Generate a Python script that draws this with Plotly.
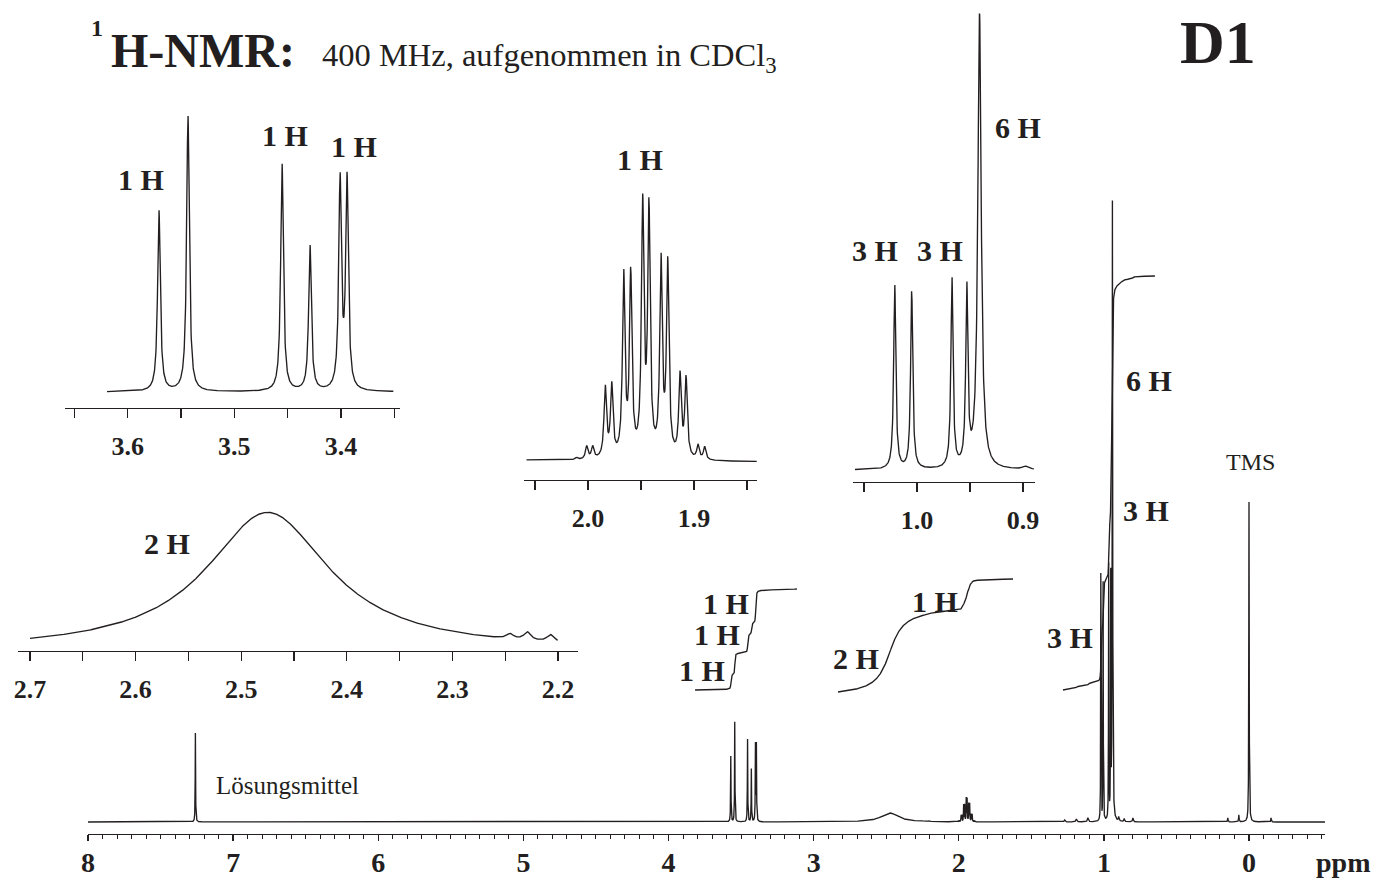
import numpy as np
import plotly.graph_objects as go

# ---------------- data ----------------
# peak lists: chemical shift (ppm), intensity (units of the main trace), half width (ppm)
solvent_ppm = [7.26]
solvent_int = [89.0]
solvent_hw = [0.0015]

ch2o_ppm = [3.5707, 3.5435, 3.4553, 3.4291, 3.4009, 3.3944]
ch2o_int = [66.0, 100.5, 83.0, 53.0, 76.0, 76.0]
ch2o_hw = [0.0015, 0.0015, 0.0015, 0.0015, 0.0015, 0.0015]

oh_ppm = [2.475, 2.2455, 2.229, 2.207]
oh_int = [9.0, 0.32, 0.52, 0.45]
oh_hw = [0.071, 0.004, 0.004, 0.004]

ch_ppm = [2.0107, 2.0012, 1.9956, 1.9837, 1.9776, 1.9663, 1.9597, 1.9484, 1.9425,
          1.9311, 1.9248, 1.9132, 1.9075, 1.8962, 1.8899]
ch_int = [0.2, 1.19, 1.11, 6.47, 6.56, 16.7, 16.7, 23.0, 22.7, 17.9, 17.7, 7.5, 7.3, 1.28, 1.19]
ch_hw = [0.0014] * 15

me_ppm = [1.021, 1.005, 0.967, 0.953, 0.941]
me_int = [254.0, 245.0, 261.0, 243.0, 625.0]
me_hw = [0.0012, 0.0012, 0.0012, 0.0012, 0.0019]

minor_ppm = [1.27, 1.19, 1.11, 0.898, 0.86, 0.80, 0.146, 0.07, -0.152]
minor_int = [2.0, 3.0, 4.0, 4.0, 3.0, 4.0, 4.0, 7.0, 4.0]
minor_hw = [0.004, 0.004, 0.004, 0.003, 0.003, 0.003, 0.002, 0.002, 0.002]

tms_ppm = [0.0]
tms_int = [320.0]
tms_hw = [0.0016]

main_ticks = [8, 7, 6, 5, 4, 3, 2, 1, 0]
main_ticktext = ["8", "7", "6", "5", "4", "3", "2", "1", "0"]
insetA_ticks = [3.65, 3.6, 3.55, 3.5, 3.45, 3.4, 3.35]
insetA_text = [" ", "3.6", " ", "3.5", " ", "3.4", " "]
insetB_ticks = [2.05, 2.0, 1.95, 1.9, 1.85]
insetB_text = [" ", "2.0", " ", "1.9", " "]
insetC_ticks = [2.7, 2.65, 2.6, 2.55, 2.5, 2.45, 2.4, 2.35, 2.3, 2.25, 2.2]
insetC_text = ["2.7", " ", "2.6", " ", "2.5", " ", "2.4", " ", "2.3", " ", "2.2"]
insetD_ticks = [1.05, 1.0, 0.95, 0.9]
insetD_text = [" ", "1.0", " ", "0.9"]

# integral traces: (start ppm, end ppm, start level, end level) in main-trace units
integral_ranges = [(3.817, 3.115, 132.0, 233.0),
                   (2.832, 1.626, 130.0, 243.0),
                   (1.282, 0.648, 132.0, 546.0)]

# ---------------- build spectrum ----------------
all_ppm = np.array(solvent_ppm + ch2o_ppm + oh_ppm + ch_ppm + me_ppm + minor_ppm + tms_ppm)
all_int = np.array(solvent_int + ch2o_int + oh_int + ch_int + me_int + minor_int + tms_int)
all_hw = np.array(solvent_hw + ch2o_hw + oh_hw + ch_hw + me_hw + minor_hw + tms_hw)


def spectrum(x):
    x = np.asarray(x)[:, None]
    return (all_int / (1.0 + ((x - all_ppm) / all_hw) ** 2)).sum(axis=1)


W, H = 1374, 886
INK = "#231f20"
SERIF = "Liberation Serif"
LW = 1.35


def xd(a, b):
    return [a / W, b / W]


def yd(bot, top):
    return [1 - bot / H, 1 - top / H]


fig = go.Figure()

# main trace
PPX = (1249 - 88) / 8.0
main_lo = 8 - (1325 - 88) / PPX
xm = np.arange(8.0, main_lo, -0.0004)
fig.add_trace(go.Scatter(x=xm, y=spectrum(xm), mode="lines",
                         line=dict(color=INK, width=LW), xaxis="x", yaxis="y"))

# integrals
for (p0, p1, v0, v1) in integral_ranges:
    xi = np.linspace(p0, p1, 9000)
    si = spectrum(xi)
    cum = np.concatenate([[0], np.cumsum(0.5 * (si[1:] + si[:-1]) * np.abs(np.diff(xi)))])
    yi = v0 + (v1 - v0) * cum / cum[-1]
    fig.add_trace(go.Scatter(x=xi, y=yi, mode="lines",
                             line=dict(color=INK, width=LW), xaxis="x", yaxis="y"))

# insets: (axis name, ppm span of trace, ppm-range of axis, x px domain, axis y, baseline y, top y, scale)
PPI = 1060.0
insets = [
    ("2", (3.6194, 3.351), (3.6 + (127.7 - 65) / 1066.7, 3.6 - (400 - 127.7) / 1066.7),
     (65, 400), 408, 392, 95, 2.75, insetA_ticks, insetA_text),
    ("3", (2.058, 1.8406), (2.0 + (588 - 524) / PPI, 1.9 - (757 - 694) / PPI),
     (524, 757), 480, 463, 150, 10.8, insetB_ticks, insetB_text),
    ("4", (2.7, 2.2), (2.7 + 12 / 1056.0, 2.2 - 20 / 1056.0),
     (18, 578), 651, 651, 480, 15.4, insetC_ticks, insetC_text),
    ("5", (1.0585, 0.8896), (1.0 + (917 - 853) / PPI, 0.9 - (1035 - 1023) / PPI),
     (853, 1035), 482, 470, 3, 0.7276, insetD_ticks, insetD_text),
]

layout_axes = {}
for name, span, rng, xdom, yax, ybase, ytop, sc, tv, tt in insets:
    xi = np.arange(span[0], span[1], -0.0002)
    fig.add_trace(go.Scatter(x=xi, y=spectrum(xi), mode="lines",
                             line=dict(color=INK, width=LW),
                             xaxis="x" + name, yaxis="y" + name))
    layout_axes["xaxis" + name] = dict(
        domain=xd(*xdom), range=list(rng), anchor="y" + name, automargin=False,
        showline=True, linecolor=INK, linewidth=1.3,
        ticks="outside", ticklen=9, tickwidth=1.3, tickcolor=INK,
        tickmode="array", tickvals=tv, ticktext=tt, ticklabelstandoff=5,
        tickfont=dict(family=SERIF, size=26, color=INK, weight="bold"),
        showgrid=False, zeroline=False)
    layout_axes["yaxis" + name] = dict(
        domain=yd(yax, ytop), range=[-(yax - ybase) / sc, (ybase - ytop) / sc],
        anchor="x" + name, visible=False, automargin=False)

layout_axes["xaxis"] = dict(
    domain=xd(88, 1325), range=[8, main_lo], anchor="y", automargin=False,
    showline=True, linecolor=INK, linewidth=1.3,
    ticks="outside", ticklen=6, tickwidth=1.3, tickcolor=INK,
    tickmode="array", tickvals=main_ticks, ticktext=main_ticktext, ticklabelstandoff=-3,
    tickfont=dict(family=SERIF, size=28, color=INK, weight="bold"),
    minor=dict(dtick=0.1, tick0=0, ticklen=4, tickwidth=1, tickcolor=INK, ticks="outside"),
    showgrid=False, zeroline=False)
layout_axes["yaxis"] = dict(domain=yd(834, 0), range=[-12, 822], anchor="x",
                            visible=False, automargin=False)

ann = []


def label(x, y, text, size, bold=True, xanchor="center"):
    ann.append(dict(x=x / W, y=1 - y / H, xref="paper", yref="paper", showarrow=False,
                    text=("<b>%s</b>" % text) if bold else text, xanchor=xanchor, yanchor="middle",
                    font=dict(family=SERIF, size=size, color=INK)))


# title
label(97, 28, "1", 24)
label(109, 50, "H-NMR:", 48, xanchor="left")
label(320, 57, "400 MHz, aufgenommen in CDCl<sub>3</sub>", 32.5, bold=False, xanchor="left")
label(1218, 42, "D1", 62)

# proton-count labels
for (x, y, t) in [(141, 179, "1 H"), (285, 136, "1 H"), (354, 146, "1 H"),
                  (640, 160, "1 H"), (875, 250, "3 H"), (940, 250, "3 H"), (1018, 128, "6 H"),
                  (167, 543, "2 H"),
                  (726, 603, "1 H"), (717, 634, "1 H"), (702, 670, "1 H"),
                  (935, 601, "1 H"), (856, 658, "2 H"),
                  (1070, 637, "3 H"), (1146, 510, "3 H"), (1149, 381, "6 H")]:
    label(x, y, t, 30)

label(287, 785, "Lösungsmittel", 25, bold=False)
label(1250, 462, "TMS", 24, bold=False)
label(1343, 862, "ppm", 28)

fig.update_layout(width=W, height=H, margin=dict(l=0, r=0, t=0, b=0, autoexpand=False),
                  paper_bgcolor="white", plot_bgcolor="rgba(0,0,0,0)",
                  showlegend=False, annotations=ann, **layout_axes)

fig.write_html("out.html", config={"displayModeBar": False, "staticPlot": True},
               post_script="document.body.style.margin='0';document.body.style.overflow='hidden';")
